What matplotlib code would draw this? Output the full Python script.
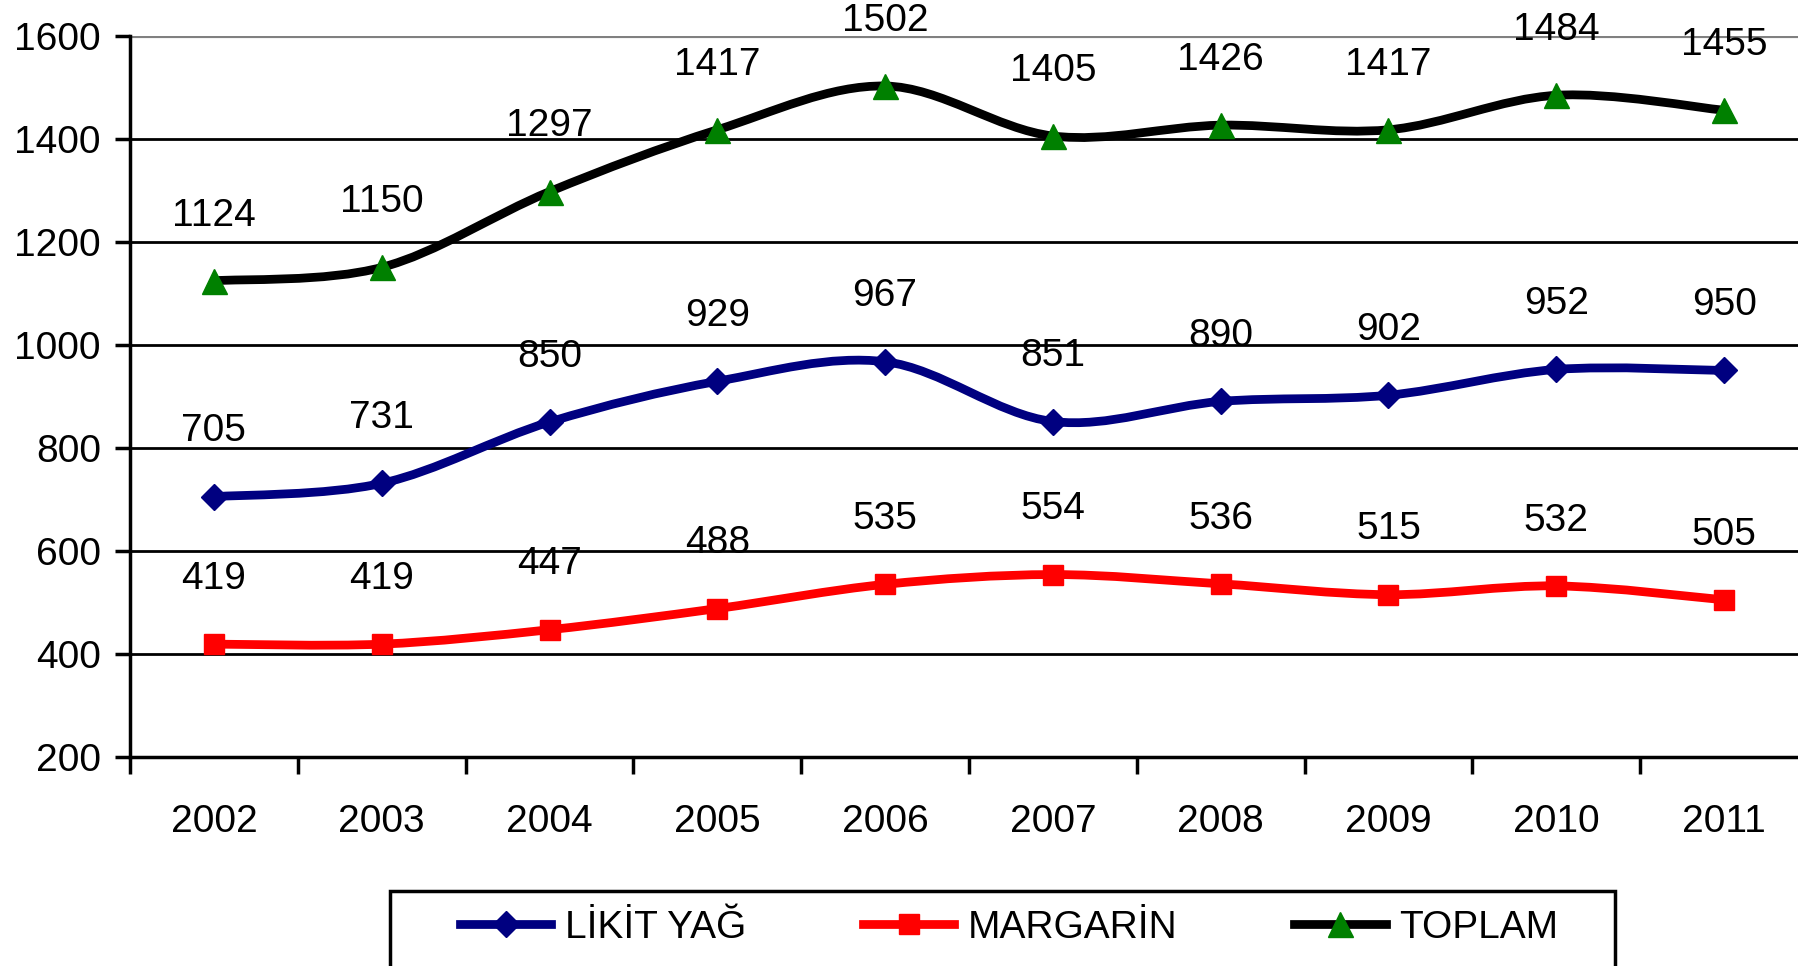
import numpy as np
import matplotlib
matplotlib.use("Agg")
import matplotlib.pyplot as plt
from matplotlib.path import Path
from matplotlib.patches import PathPatch, Rectangle
from matplotlib.lines import Line2D

plt.rcParams['font.family'] = ['Liberation Sans', 'DejaVu Sans']

years = ['2002', '2003', '2004', '2005', '2006', '2007', '2008', '2009', '2010', '2011']
likit = [705, 731, 850, 929, 967, 851, 890, 902, 952, 950]
margarin = [419, 419, 447, 488, 535, 554, 536, 515, 532, 505]
toplam = [1124, 1150, 1297, 1417, 1502, 1405, 1426, 1417, 1484, 1455]
names = ['LİKİT YAĞ', 'MARGARİN', 'TOPLAM']

W, H = 1798, 966
fig = plt.figure(figsize=(W / 100, H / 100), dpi=100)
ax = fig.add_axes([130 / W, 1 - 757 / H, 1678 / W, (757 - 35.5) / H])

x = np.arange(len(years)) + 0.5


def smooth_path(xs, ys):
    # excel-like smoothed line: cubic bezier segments through the points
    pts = np.column_stack([xs, ys]).astype(float)
    n = len(pts)
    verts = [pts[0]]
    codes = [Path.MOVETO]
    for i in range(n - 1):
        p_prev = pts[max(i - 1, 0)]
        p_next2 = pts[min(i + 2, n - 1)]
        c1 = pts[i] + (pts[i + 1] - p_prev) / 6
        c2 = pts[i + 1] - (p_next2 - pts[i]) / 6
        verts += [c1, c2, pts[i + 1]]
        codes += [Path.CURVE4] * 3
    return Path(verts, codes)


styles = [
    (likit, '#000080', 'D', 13, '#000080'),
    (margarin, '#ff0000', 's', 14, '#ff0000'),
    (toplam, '#000000', '^', 18, '#008000'),
]

LW = 6.3
handles = []
for (vals, col, mk, ms, mcol), name in zip(styles, names):
    patch = PathPatch(smooth_path(x, vals), fill=False, edgecolor=col, lw=LW,
                      joinstyle='round', capstyle='round', zorder=3)
    ax.add_patch(patch)
    ax.plot(x, vals, linestyle='none', marker=mk, ms=ms, color=mcol, zorder=4)
    for xi, v in zip(x, vals):
        ax.annotate(str(v), (xi, v), xytext=(0, 47), textcoords='offset points',
                    ha='center', va='center', fontsize=28, color='black', zorder=5)
    handles.append(Line2D([], [], color=col, lw=LW, marker=mk, ms=ms,
                          markerfacecolor=mcol, markeredgecolor=mcol))

ax.set_xlim(0, len(years))
ax.set_ylim(200, 1600)
ax.set_yticks(range(200, 1601, 200))
ax.set_xticks(range(len(years) + 1))
ax.set_xticklabels([])
ax.set_xticks(x, minor=True)
ax.set_xticklabels(years, minor=True)

for gy in range(400, 1600, 200):
    ax.axhline(gy, color='black', lw=2, zorder=1)
ax.axhline(1600, color='#808080', lw=3, zorder=1)

for s in ['top', 'right']:
    ax.spines[s].set_visible(False)
for s in ['left', 'bottom']:
    ax.spines[s].set_linewidth(2.5)
    ax.spines[s].set_color('black')

ax.tick_params(axis='y', direction='out', length=11, width=2.5, labelsize=28, pad=10)
ax.tick_params(axis='x', which='major', direction='out', length=12, width=2.5)
ax.tick_params(axis='x', which='minor', length=0, labelsize=28, pad=34)

# legend box
fig.patches.append(Rectangle((390 / W, -0.01), (1615 - 390) / W, 0.01 + 1 - 891 / H,
                             transform=fig.transFigure, fill=False,
                             edgecolor='black', lw=2.5))
fig.legend(handles, names, loc='center left', bbox_to_anchor=(460 / W, 1 - 928 / H),
           ncol=3, frameon=False, fontsize=28, handlelength=2.35, handletextpad=0.35,
           columnspacing=3.0, borderpad=0, borderaxespad=0)

fig.savefig('out.png', dpi=100)
